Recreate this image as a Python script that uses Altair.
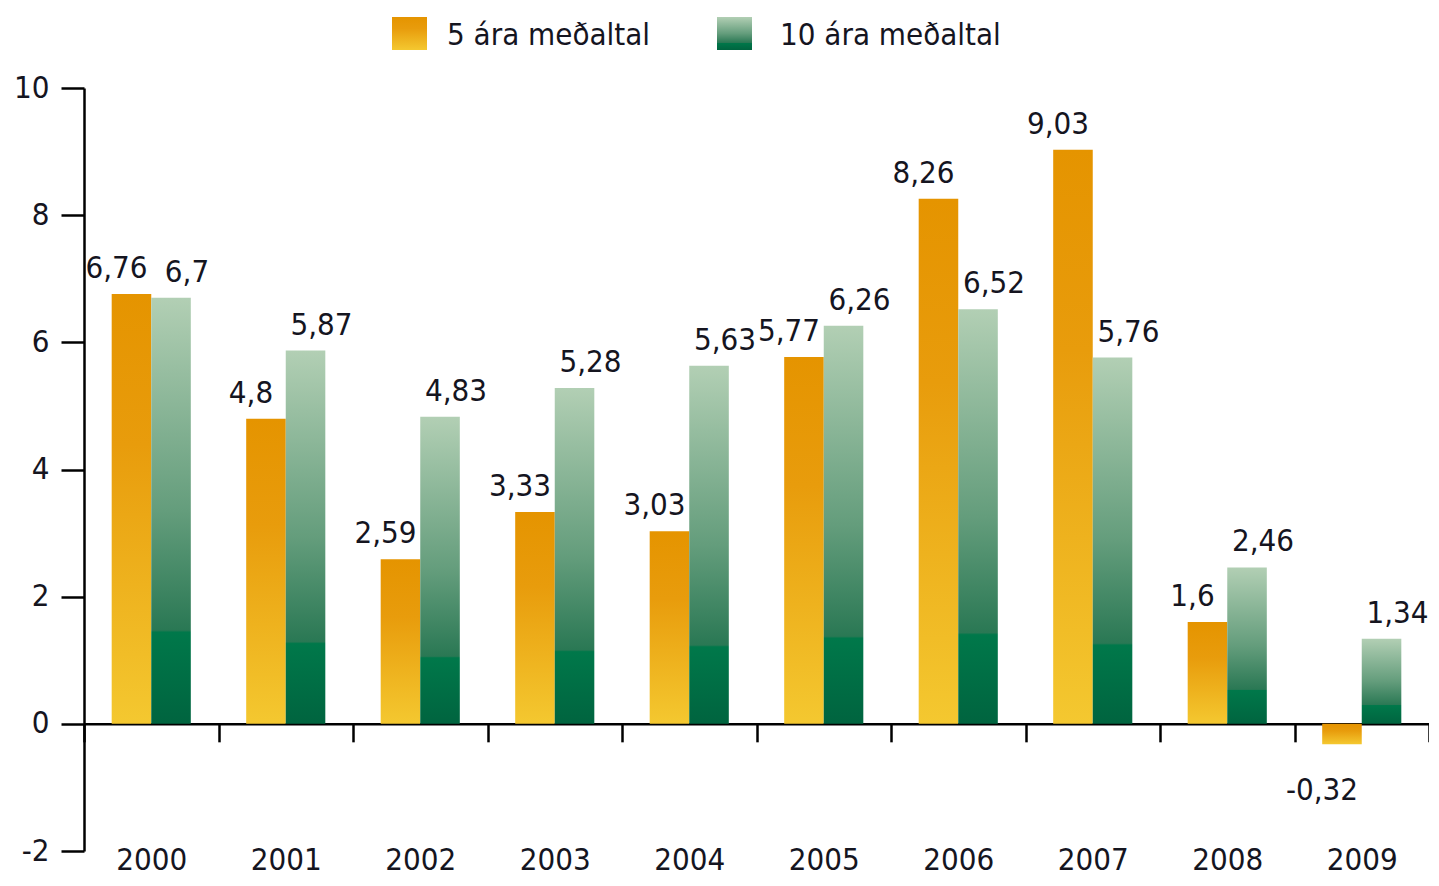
import altair as alt
import pandas as pd

years = [str(y) for y in range(2000, 2010)]
avg5 = [6.76, 4.8, 2.59, 3.33, 3.03, 5.77, 8.26, 9.03, 1.6, -0.32]
avg10 = [6.7, 5.87, 4.83, 5.28, 5.63, 6.26, 6.52, 5.76, 2.46, 1.34]
series_names = ["5 ára meðaltal", "10 ára meðaltal"]
y_ticks = [-2, 0, 2, 4, 6, 8, 10]

FONT = "DejaVu Sans Condensed, Liberation Sans Narrow, sans-serif"
TXT = "#15151f"
FS = 31

rows = []
for yr, a, b in zip(years, avg5, avg10):
    rows.append({"year": yr, "series": series_names[0], "value": a, "label": str(a).replace(".", ",")})
    rows.append({"year": yr, "series": series_names[1], "value": b, "label": str(b).replace(".", ",")})
df = pd.DataFrame(rows)

grad_orange = alt.Gradient(
    gradient="linear", x1=0, x2=0, y1=0, y2=1,
    stops=[alt.GradientStop(color="#E59400", offset=0),
           alt.GradientStop(color="#E89C0C", offset=0.35),
           alt.GradientStop(color="#F4C830", offset=1)])
grad_green = alt.Gradient(
    gradient="linear", x1=0, x2=0, y1=0, y2=1,
    stops=[alt.GradientStop(color="#B2CFB4", offset=0),
           alt.GradientStop(color="#649D7C", offset=0.5),
           alt.GradientStop(color="#2A7854", offset=0.78),
           alt.GradientStop(color="#00784A", offset=0.785),
           alt.GradientStop(color="#00643F", offset=1)])

H = 763
x_enc = alt.X("year:N", title=None, sort=years,
              scale=alt.Scale(domain=years, paddingInner=0, paddingOuter=0),
              axis=alt.Axis(orient="bottom", offset=-H * 2 / 12, tickBand="extent",
                            tickSize=18, tickWidth=2.5, tickColor="black",
                            domainColor="black", domainWidth=2.5,
                            labelFont=FONT, labelFontSize=FS, labelColor=TXT,
                            labelAngle=0, labelPadding=104))
xo_enc = alt.XOffset("series:N", sort=series_names,
                     scale=alt.Scale(domain=series_names, paddingInner=0, paddingOuter=0.7))
y_enc = alt.Y("value:Q", title=None,
              scale=alt.Scale(domain=[-2, 10], nice=False, zero=False),
              axis=alt.Axis(values=y_ticks, grid=False, tickSize=23, tickWidth=2.5,
                            tickColor="black", domainColor="black", domainWidth=2.5,
                            labelFont=FONT, labelFontSize=FS, labelColor=TXT,
                            labelPadding=12,
                            labelExpr="replace(datum.label, '\u2212', '-')"))

base = alt.Chart(df).encode(x=x_enc, xOffset=xo_enc, y=y_enc)

bars5 = base.transform_filter(alt.datum.series == series_names[0]).mark_bar(
    color=grad_orange).encode(y2=alt.datum(0))
bars10 = base.transform_filter(alt.datum.series == series_names[1]).mark_bar(
    color=grad_green).encode(y2=alt.datum(0))

txt_kw = dict(font=FONT, fontSize=FS, color=TXT)
lab5p = base.transform_filter(
    (alt.datum.series == series_names[0]) & (alt.datum.value >= 0)
).mark_text(dx=-15, dy=-9, baseline="bottom", **txt_kw).encode(text="label:N")
lab5n = base.transform_filter(
    (alt.datum.series == series_names[0]) & (alt.datum.value < 0)
).mark_text(dx=-20, dy=32, baseline="top", **txt_kw).encode(text="label:N")
lab10 = base.transform_filter(
    alt.datum.series == series_names[1]
).mark_text(dx=16, dy=-9, baseline="bottom", **txt_kw).encode(text="label:N")

leg5 = pd.DataFrame({"name": [series_names[0]]})
leg10 = pd.DataFrame({"name": [series_names[1]]})
legsq5 = alt.Chart(leg5).mark_rect(color=grad_orange).encode(
    x=alt.value(308), x2=alt.value(343), y=alt.value(-71), y2=alt.value(-38))
legsq10 = alt.Chart(leg10).mark_rect(color=grad_green).encode(
    x=alt.value(633), x2=alt.value(668), y=alt.value(-71), y2=alt.value(-38))
legt5 = alt.Chart(leg5).mark_text(align="left", baseline="middle", **txt_kw).encode(
    x=alt.value(363), y=alt.value(-52), text="name:N")
legt10 = alt.Chart(leg10).mark_text(align="left", baseline="middle", **txt_kw).encode(
    x=alt.value(696), y=alt.value(-52), text="name:N")

chart = alt.layer(
    bars5, bars10, lab5p, lab5n, lab10, legsq5, legsq10, legt5, legt10
).properties(
    width=1345, height=H,
    background="white",
    autosize=alt.AutoSizeParams(type="none"),
    padding={"left": 76, "top": 80, "right": 0, "bottom": 27},
).configure_view(strokeWidth=0, stroke=None)

chart.save("out.html", embed_options={"renderer": "svg", "actions": False})
